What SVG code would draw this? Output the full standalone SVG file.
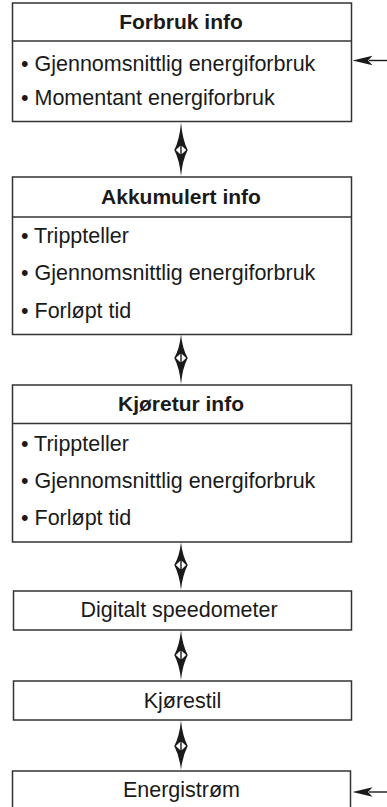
<svg xmlns="http://www.w3.org/2000/svg" width="387" height="807" viewBox="0 0 387 807">
<defs>
<style>
.box{fill:#fff;stroke:#333;stroke-width:1.5}
.div{stroke:#333;stroke-width:1.5}
.t{font-family:"Liberation Sans",Arial,sans-serif;font-size:21.5px;fill:#1a1a1a}
.h{font-weight:bold;text-anchor:middle;font-size:21px}
.c{text-anchor:middle}
.dia{fill:#1a1a1a}
.win{fill:#fff}
.ln{stroke:#1a1a1a;stroke-width:1.4;fill:none}
</style>
</defs>
<rect width="387" height="807" fill="#fff"/>

<g id="forbruk">
<rect class="box" x="12.5" y="3" width="339" height="118.5"/>
<line class="div" x1="12.5" y1="41" x2="351.5" y2="41"/>
<text class="t h" x="181" y="29">Forbruk info</text>
<text class="t" x="21" y="70.5">• Gjennomsnittlig energiforbruk</text>
<text class="t" x="21" y="105">• Momentant energiforbruk</text>
</g>

<g id="akkumulert">
<rect class="box" x="12.5" y="177" width="339" height="157.5"/>
<line class="div" x1="12.5" y1="217" x2="351.5" y2="217"/>
<text class="t h" x="181" y="203.5">Akkumulert info</text>
<text class="t" x="21" y="243">• Trippteller</text>
<text class="t" x="21" y="280">• Gjennomsnittlig energiforbruk</text>
<text class="t" x="21" y="317.5">• Forløpt tid</text>
</g>

<g id="kjoretur">
<rect class="box" x="12.5" y="385" width="339" height="157"/>
<line class="div" x1="12.5" y1="423.5" x2="351.5" y2="423.5"/>
<text class="t h" x="181" y="411">Kjøretur info</text>
<text class="t" x="21" y="450.5">• Trippteller</text>
<text class="t" x="21" y="487.5">• Gjennomsnittlig energiforbruk</text>
<text class="t" x="21" y="525">• Forløpt tid</text>
</g>

<g id="speedometer">
<rect class="box" x="13.5" y="591" width="338" height="39"/>
<text class="t c" x="179" y="616.5">Digitalt speedometer</text>
</g>

<g id="kjorestil">
<rect class="box" x="13.5" y="681" width="338" height="39"/>
<text class="t c" x="182.5" y="707.5">Kjørestil</text>
</g>

<g id="energistrom">
<rect class="box" x="12.5" y="771" width="338" height="45"/>
<text class="t c" x="181.5" y="797">Energistrøm</text>
</g>

<g id="connectors">
<path class="dia" d="M181,122.5 Q179.5,140 174.3,150 Q179.5,160 181,176 Q182.5,160 187.7,150 Q182.5,140 181,122.5 Z"/>
<path class="win" d="M175.8,150 L180.3,145.8 L180.3,154.2 Z M186.2,150 L181.7,145.8 L181.7,154.2 Z"/>

<path class="dia" d="M181,334.5 Q179.5,349 174.3,358 Q179.5,368 181,384 Q182.5,368 187.7,358 Q182.5,349 181,334.5 Z"/>
<path class="win" d="M175.8,358 L180.3,353.8 L180.3,362.2 Z M186.2,358 L181.7,353.8 L181.7,362.2 Z"/>

<path class="dia" d="M181,542.5 Q179.5,556 174.3,565 Q179.5,575 181,590 Q182.5,575 187.7,565 Q182.5,556 181,542.5 Z"/>
<path class="win" d="M175.8,565 L180.3,560.8 L180.3,569.2 Z M186.2,565 L181.7,560.8 L181.7,569.2 Z"/>

<path class="dia" d="M181,630.5 Q179.5,645 174.3,655 Q179.5,665 181,680 Q182.5,665 187.7,655 Q182.5,645 181,630.5 Z"/>
<path class="win" d="M175.8,655 L180.3,650.8 L180.3,659.2 Z M186.2,655 L181.7,650.8 L181.7,659.2 Z"/>

<path class="dia" d="M181,720.5 Q179.5,736 174.3,746 Q179.5,756 181,770 Q182.5,756 187.7,746 Q182.5,736 181,720.5 Z"/>
<path class="win" d="M175.8,746 L180.3,741.8 L180.3,750.2 Z M186.2,746 L181.7,741.8 L181.7,750.2 Z"/>

<line class="ln" x1="387" y1="60.5" x2="369" y2="60.5"/>
<path d="M352.5,60.5 L372.5,55.8 L368,60.5 L372.5,65.2 Z" fill="#1a1a1a"/>
<line class="ln" x1="387" y1="792" x2="369" y2="792"/>
<path d="M352.5,792 L372.5,787.3 L368,792 L372.5,796.7 Z" fill="#1a1a1a"/>
</g>
</svg>
